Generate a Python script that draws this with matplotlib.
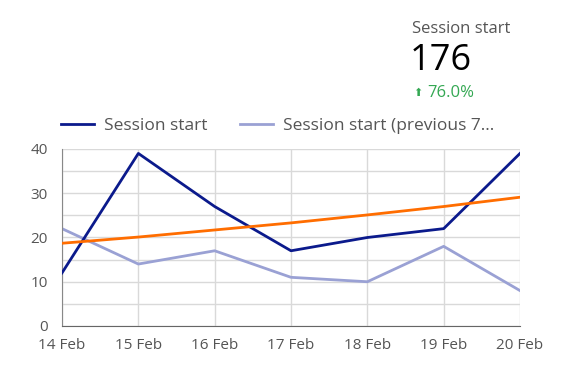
import numpy as np
import matplotlib.pyplot as plt
from matplotlib.ticker import MultipleLocator

plt.rcParams['font.family'] = ['Open Sans', 'DejaVu Sans']

# Data
dates = ["14 Feb", "15 Feb", "16 Feb", "17 Feb", "18 Feb", "19 Feb", "20 Feb"]
session_start = [12, 39, 27, 17, 20, 22, 39]
session_prev = [22, 14, 17, 11, 10, 18, 8]
trend = [18.7, 20.1, 21.7, 23.3, 25.1, 27.0, 29.1]
total = 176
change = "76.0%"

text_col = "#555555"
fig = plt.figure(figsize=(5.72, 3.71), dpi=100)
ax = fig.add_axes([0.1084, 0.1213, 0.8007, 0.4771])

x = np.arange(len(dates))
ax.plot(x, session_start, color="#0b1a8c", lw=2, label="Session start", zorder=3)
ax.plot(x, session_prev, color="#9aa1d4", lw=2, label="Session start (previous 7...", zorder=2)
ax.plot(x, trend, color="#ff6d00", lw=2, zorder=4)

ax.set_xlim(0, len(dates) - 1)
ax.set_ylim(0, 40)
ax.set_xticks(x)
ax.set_xticklabels(dates)
ax.yaxis.set_major_locator(MultipleLocator(10))
ax.yaxis.set_minor_locator(MultipleLocator(5))
ax.grid(True, which="both", color="#d9d9d9", lw=1)
ax.set_axisbelow(True)
ax.tick_params(axis="both", which="both", length=0, labelsize=11, colors=text_col)
ax.tick_params(axis="x", pad=9)
ax.tick_params(axis="y", pad=10)
for s in ["top", "right"]:
    ax.spines[s].set_visible(False)
ax.spines["left"].set_color("#888888")
ax.spines["bottom"].set_color("#666666")

# legend
ax.legend(loc="lower left", bbox_to_anchor=(-0.002, 1.085), ncol=2, frameon=False,
          fontsize=12.5, handlelength=1.9, handletextpad=0.55, columnspacing=1.9,
          labelcolor=text_col, borderaxespad=0, borderpad=0)

# scorecard
fig.text(412 / 572, 1 - 29 / 371, "Session start", fontsize=12, color=text_col, va="center")
fig.text(410 / 572, 1 - 61 / 371, str(total), fontsize=26, color="black", va="center")
fig.text(413 / 572, 1 - 94 / 371, "⬆", fontsize=8, color="#34a853", va="center")
fig.text(427 / 572, 1 - 93 / 371, change, fontsize=12, color="#34a853", va="center")

fig.savefig("out.png", dpi=100)
